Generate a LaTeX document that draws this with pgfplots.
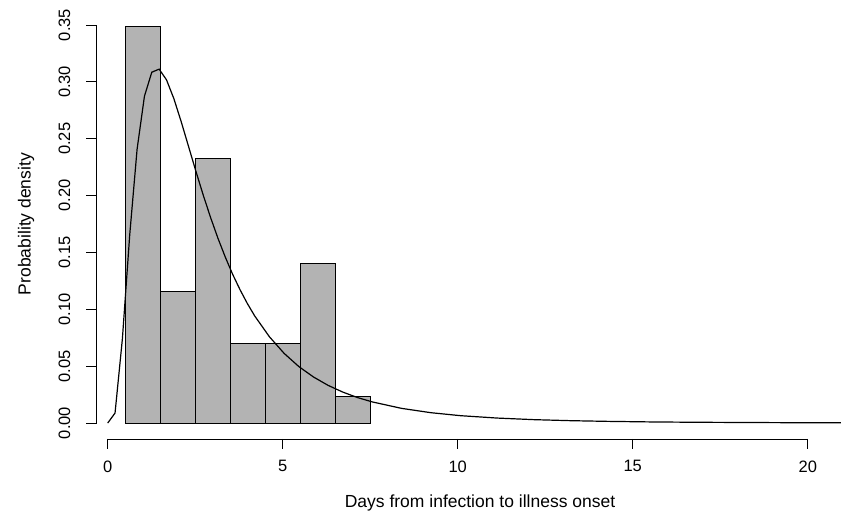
\documentclass[border=0pt]{standalone}
\usepackage{fontspec}
\setmainfont{Liberation Sans}
\usepackage{pgfplots}
\pgfplotsset{compat=1.18}

% histogram of 43 cases (density), bins of width 1 centred on whole days
\pgfplotstableread{
x    d
0.5  0.349
1.5  0.116
2.5  0.233
3.5  0.070
4.5  0.070
5.5  0.140
6.5  0.023
7.5  0.000
}\histdata

% fitted density curve
\pgfplotstableread{
x      f
0.00   0.0000
0.21   0.0088
0.42   0.0741
0.63   0.1657
0.84   0.2408
1.05   0.2874
1.26   0.3085
1.47   0.3112
1.68   0.3018
1.89   0.2853
2.10   0.2650
2.31   0.2432
2.52   0.2214
2.73   0.2004
2.94   0.1807
3.15   0.1625
3.36   0.1459
3.57   0.1308
3.78   0.1173
3.99   0.1051
4.20   0.0942
4.62   0.0759
5.04   0.0613
5.46   0.0497
5.88   0.0405
6.30   0.0331
6.72   0.0272
7.14   0.0224
7.56   0.0186
8.40   0.0129
9.24   0.0091
10.08  0.0065
11.13  0.0044
12.18  0.0030
13.23  0.0021
14.28  0.0015
15.54  0.0010
16.80  0.0007
18.27  0.0005
19.74  0.0003
20.95  0.0002
}\curvedata

\definecolor{bargray}{HTML}{B3B3B3}

\begin{document}
\begin{tikzpicture}
\path[use as bounding box] (0,0) rectangle (841pt,521pt);
\begin{axis}[
  at={(96.7pt,82pt)}, anchor=south west,
  scale only axis,
  width=744.3pt, height=429.9pt,
  xmin=-0.314, xmax=20.95,
  ymin=-0.014, ymax=0.364,
  clip=false,
  axis x line*=bottom, axis y line*=left,
  axis line style={draw=none},
  xtick={0,5,10,15,20},
  ytick={0,0.05,0.10,0.15,0.20,0.25,0.30,0.35},
  major tick length=0pt,
  /pgf/number format/assume math mode=true,
  yticklabel={\pgfmathprintnumber[fixed,fixed zerofill,precision=2]{\tick}},
  tick label style={font=\fontsize{16.5}{18}\selectfont},
  yticklabel style={rotate=90, anchor=south},
  xticklabel style={anchor=north},
  xticklabel shift=18pt,
  yticklabel shift=23pt,
  xlabel={Days from infection to illness onset},
  ylabel={Probability density},
  every axis x label/.style={at={(axis description cs:0.515,0)}, anchor=center, yshift=-64pt, font=\fontsize{17.5}{20}\selectfont},
  every axis y label/.style={at={(axis description cs:-0.095,0.5)}, anchor=center, rotate=90, font=\fontsize{17.5}{20}\selectfont},
]
\addplot[ybar interval, fill=bargray, draw=black, line width=1.1pt] table[x=x, y=d] {\histdata};
\addplot[black, line width=1.2pt, mark=none] table[x=x, y=f] {\curvedata};
% R-style detached axes: lines span first to last tick, ticks point outward
\draw[black, line width=0.9pt] (axis cs:0,-0.014) -- (axis cs:20,-0.014);
\draw[black, line width=0.9pt] (axis cs:-0.314,0) -- (axis cs:-0.314,0.35);
\pgfplotsinvokeforeach{0,5,10,15,20}{
  \draw[black, line width=0.9pt] (axis cs:#1,-0.014) -- ++(0pt,-10.5pt);
}
\pgfplotsinvokeforeach{0,0.05,0.10,0.15,0.20,0.25,0.30,0.35}{
  \draw[black, line width=0.9pt] (axis cs:-0.314,#1) -- ++(-10.5pt,0pt);
}
\end{axis}
\end{tikzpicture}
\end{document}
